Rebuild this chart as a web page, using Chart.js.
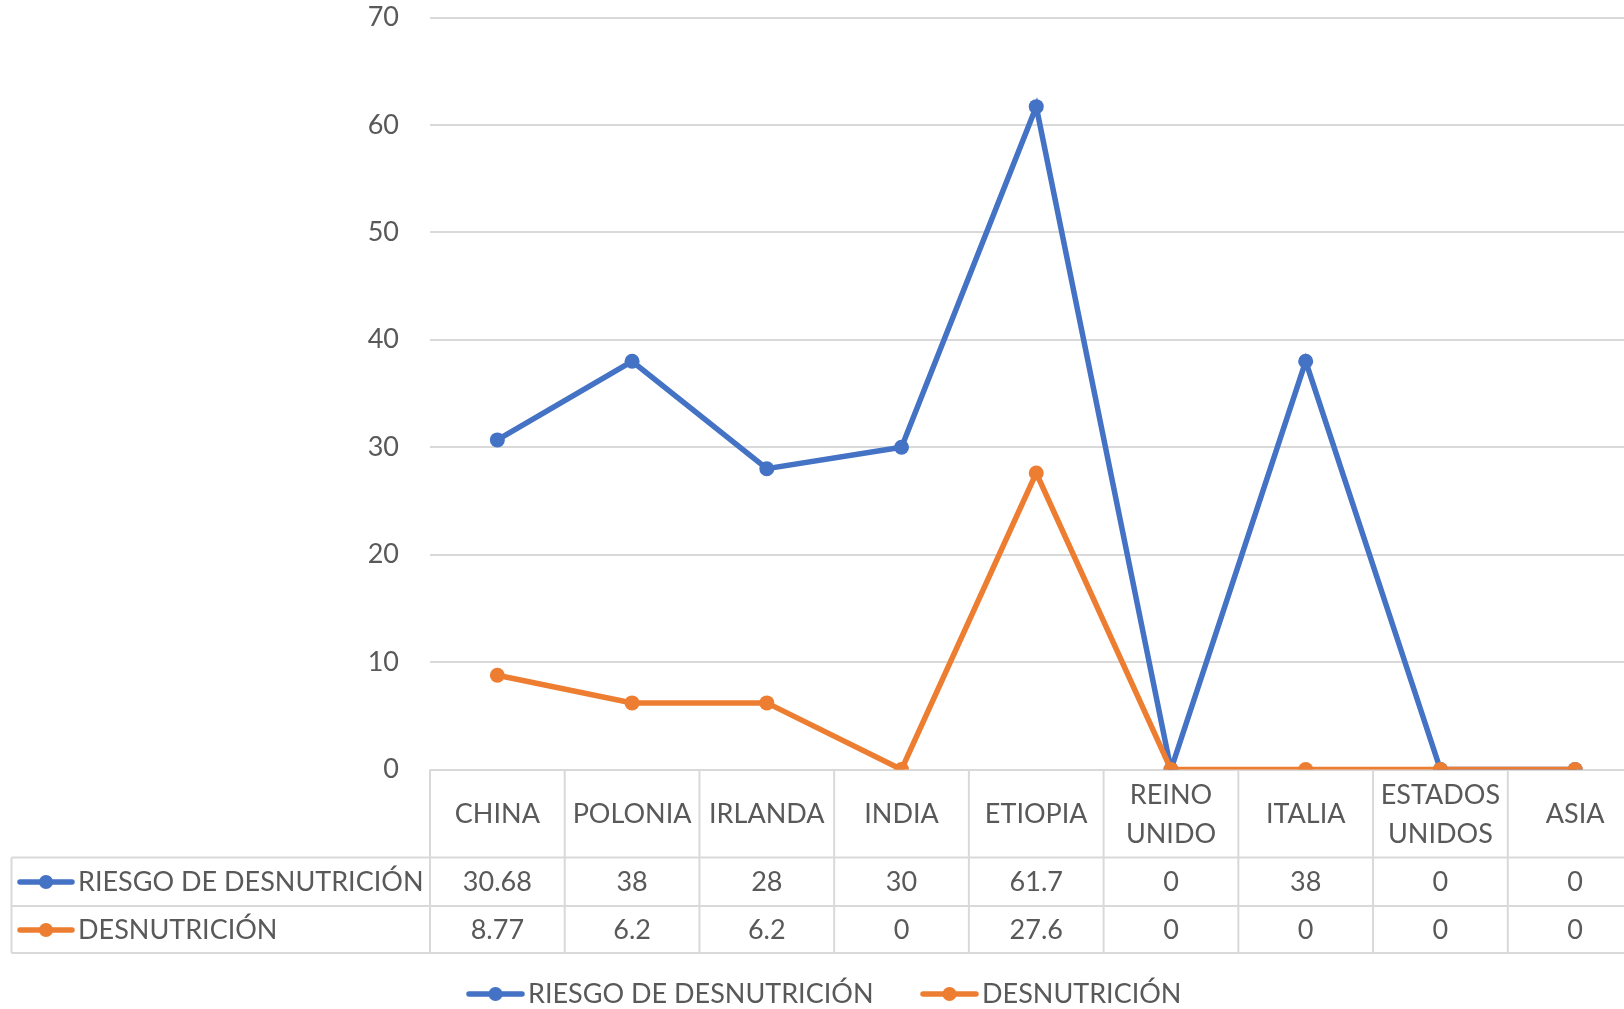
<!DOCTYPE html>
<html>
<head>
<meta charset="utf-8">
<script src="https://cdn.jsdelivr.net/npm/chart.js@4"></script>
<style>
  html, body { margin: 0; padding: 0; background: #fff; overflow: hidden; }
  #wrap { width: 1650px; height: 1009px; position: relative; }
</style>
</head>
<body>
<div id="wrap"><canvas id="grafico"></canvas></div>
<script>
const categorias = [['CHINA'], ['POLONIA'], ['IRLANDA'], ['INDIA'], ['ETIOPIA'], ['REINO', 'UNIDO'], ['ITALIA'], ['ESTADOS', 'UNIDOS'], ['ASIA']];
const riesgo = [30.68, 38, 28, 30, 61.7, 0, 38, 0, 0];
const desnutricion = [8.77, 6.2, 6.2, 0, 27.6, 0, 0, 0, 0];
const nombresSeries = ['RIESGO DE DESNUTRICIÓN', 'DESNUTRICIÓN'];
const yMin = 0, yMax = 70, yPaso = 10;

const azul = '#4472C4';
const naranja = '#ED7D31';
const gris = '#595959';
const linea = '#d9d9d9';
const fuente = 'Lato, "Open Sans", sans-serif';
const tamTexto = 27;

function marcaSerie(ctx, x0, x1, y, color) {
    ctx.save();
    ctx.strokeStyle = color;
    ctx.lineWidth = 5.5;
    ctx.lineCap = 'round';
    ctx.beginPath();
    ctx.moveTo(x0, y);
    ctx.lineTo(x1, y);
    ctx.stroke();
    ctx.fillStyle = color;
    ctx.beginPath();
    ctx.arc((x0 + x1) / 2, y, 7, 0, Math.PI * 2);
    ctx.fill();
    ctx.restore();
}

const tablaDatos = {
    id: 'tablaDatos',
    beforeDatasetsDraw(chart) {
        const ctx = chart.ctx;
        const area = chart.chartArea;
        const x = chart.scales.x;
        const ancho = (area.right - area.left) / categorias.length;
        const yTop = area.bottom;
        const yCab = 857.6, yF1 = 906, yF2 = 953;
        const xIzq = 11.5;

        ctx.save();
        ctx.strokeStyle = linea;
        ctx.lineWidth = 2;
        ctx.beginPath();
        // horizontales
        ctx.moveTo(xIzq, yCab); ctx.lineTo(area.right, yCab);
        ctx.moveTo(xIzq, yF1); ctx.lineTo(area.right, yF1);
        ctx.moveTo(xIzq, yF2); ctx.lineTo(area.right, yF2);
        // verticales
        ctx.moveTo(xIzq, yCab); ctx.lineTo(xIzq, yF2);
        for (let i = 0; i <= categorias.length; i++) {
            const xb = area.left + i * ancho;
            ctx.moveTo(xb, yTop); ctx.lineTo(xb, yF2);
        }
        ctx.stroke();

        ctx.fillStyle = gris;
        ctx.font = tamTexto + 'px ' + fuente;
        ctx.textAlign = 'center';
        ctx.textBaseline = 'middle';
        categorias.forEach((cat, i) => {
            const cx = x.getPixelForValue(i);
            if (cat.length === 1) {
                ctx.fillText(cat[0], cx, 814);
            } else {
                ctx.fillText(cat[0], cx, 795);
                ctx.fillText(cat[1], cx, 834);
            }
            ctx.fillText(String(riesgo[i]), cx, 882);
            ctx.fillText(String(desnutricion[i]), cx, 930);
        });

        ctx.textAlign = 'left';
        marcaSerie(ctx, 20, 72, 882, azul);
        ctx.fillStyle = gris;
        ctx.fillText(nombresSeries[0], 78, 882);
        marcaSerie(ctx, 20, 72, 930, naranja);
        ctx.fillStyle = gris;
        ctx.fillText(nombresSeries[1], 78, 930);
        ctx.restore();
    },
    afterDraw(chart) {
        const ctx = chart.ctx;
        ctx.save();
        ctx.font = tamTexto + 'px ' + fuente;
        ctx.textAlign = 'left';
        ctx.textBaseline = 'middle';
        marcaSerie(ctx, 469, 522, 994, azul);
        ctx.fillStyle = gris;
        ctx.fillText(nombresSeries[0], 528, 994);
        marcaSerie(ctx, 923, 976, 994, naranja);
        ctx.fillStyle = gris;
        ctx.fillText(nombresSeries[1], 982, 994);
        ctx.restore();
    }
};

new Chart(document.getElementById('grafico'), {
    type: 'line',
    data: {
        labels: categorias,
        datasets: [
            {
                label: nombresSeries[0],
                data: riesgo,
                borderColor: azul,
                backgroundColor: azul,
                borderWidth: 5.5,
                pointRadius: 7.5,
                pointBorderWidth: 0,
                tension: 0,
                order: 1
            },
            {
                label: nombresSeries[1],
                data: desnutricion,
                borderColor: naranja,
                backgroundColor: naranja,
                borderWidth: 5.5,
                pointRadius: 7.5,
                pointBorderWidth: 0,
                tension: 0,
                order: 0
            }
        ]
    },
    options: {
        responsive: true,
        maintainAspectRatio: false,
        animation: false,
        layout: { padding: { top: 17.5, bottom: 239.5, left: 0, right: 5 } },
        scales: {
            x: { display: false, offset: true },
            y: {
                min: yMin,
                max: yMax,
                afterFit: s => { s.width = 430; s.paddingTop = 0; s.paddingBottom = 0; },
                border: { display: false },
                grid: { color: linea, lineWidth: 2, drawTicks: false },
                ticks: {
                    stepSize: yPaso,
                    padding: 31,
                    color: gris,
                    font: { family: fuente, size: tamTexto }
                }
            }
        },
        plugins: {
            legend: { display: false },
            tooltip: { enabled: false }
        }
    },
    plugins: [tablaDatos]
});
</script>
</body>
</html>
